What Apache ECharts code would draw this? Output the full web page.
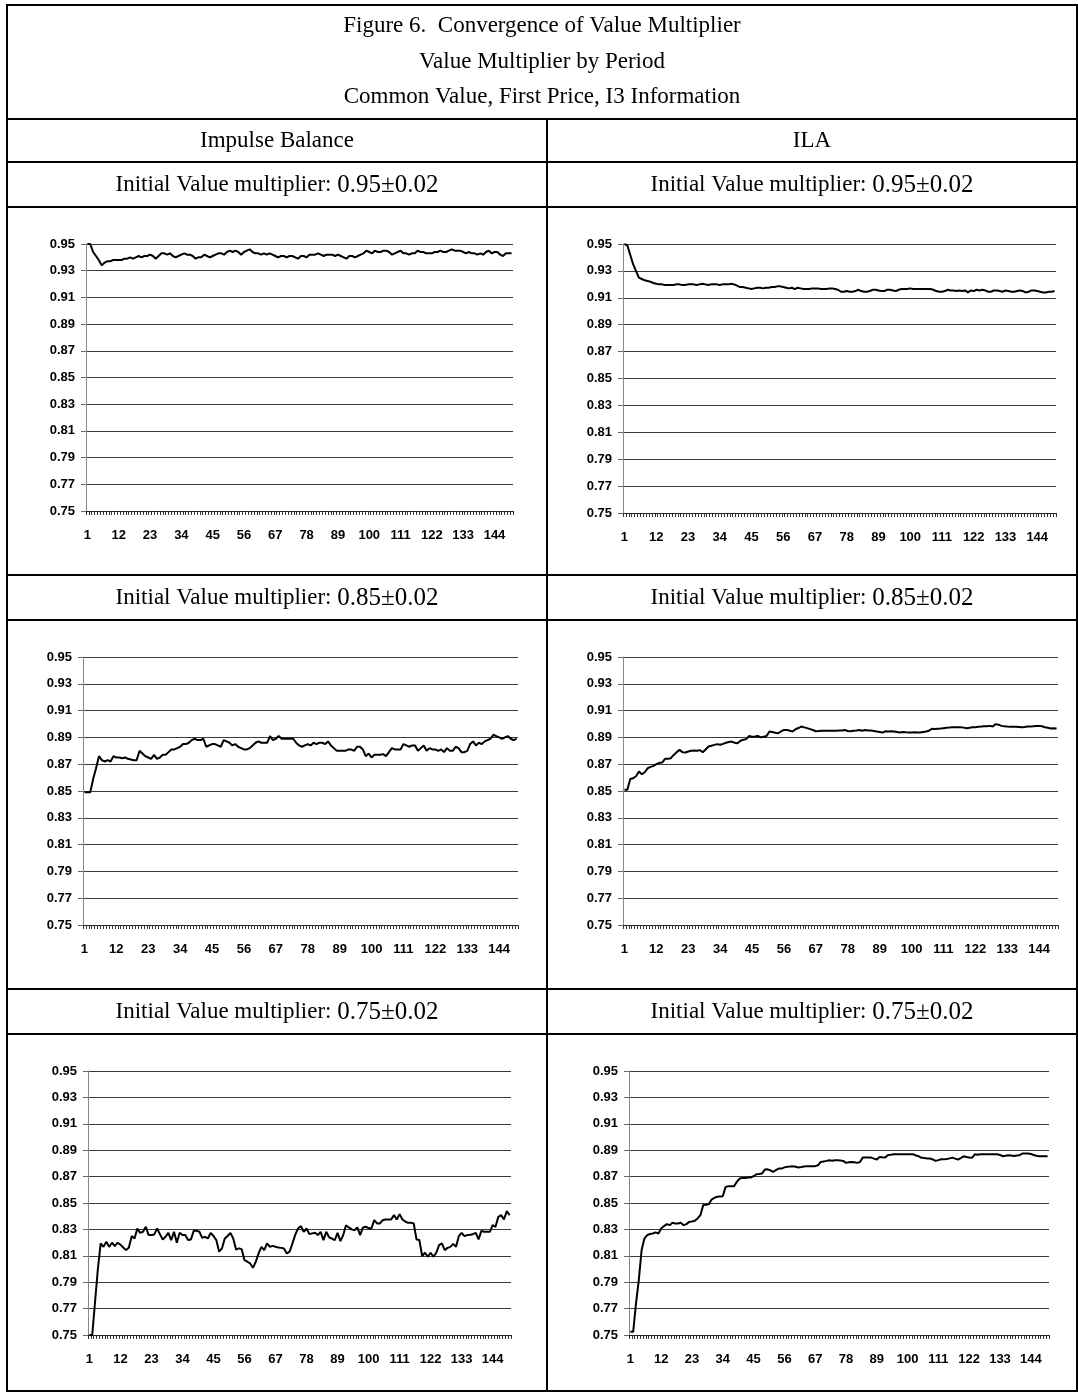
<!DOCTYPE html>
<html><head><meta charset="utf-8">
<script src="https://cdn.jsdelivr.net/npm/echarts@6/dist/echarts.min.js"></script>
<style>html,body{margin:0;padding:0;background:#fff}#c{width:1078px;height:1393px}</style>
</head><body><div id="c"></div>
<script>
const periods = Array.from({length:150},(_,i)=>String(i+1));
const yTicks = [0.75,0.77,0.79,0.81,0.83,0.85,0.87,0.89,0.91,0.93,0.95];

const ib95 = [0.950,0.950,0.944,0.941,0.938,0.934,0.936,0.937,0.937,0.938,
0.938,0.938,0.938,0.939,0.939,0.940,0.939,0.940,0.941,0.940,
0.941,0.941,0.942,0.941,0.939,0.941,0.943,0.943,0.942,0.943,
0.941,0.940,0.941,0.942,0.943,0.942,0.942,0.941,0.939,0.940,
0.940,0.942,0.941,0.940,0.941,0.942,0.943,0.943,0.942,0.944,
0.945,0.944,0.945,0.944,0.942,0.944,0.945,0.946,0.944,0.943,
0.943,0.942,0.943,0.942,0.943,0.942,0.941,0.940,0.941,0.941,
0.940,0.941,0.941,0.940,0.939,0.941,0.941,0.940,0.942,0.942,
0.942,0.943,0.942,0.941,0.942,0.942,0.942,0.941,0.942,0.941,
0.940,0.939,0.941,0.941,0.940,0.941,0.942,0.943,0.945,0.944,
0.943,0.945,0.944,0.944,0.945,0.945,0.944,0.942,0.943,0.944,
0.945,0.943,0.943,0.942,0.943,0.943,0.945,0.944,0.944,0.943,
0.943,0.943,0.944,0.944,0.945,0.944,0.944,0.945,0.946,0.945,
0.945,0.945,0.944,0.943,0.944,0.943,0.943,0.942,0.943,0.942,
0.944,0.945,0.943,0.944,0.944,0.942,0.941,0.943,0.943,0.943];

const ila95 = [0.950,0.949,0.942,0.935,0.930,0.925,0.924,0.923,0.9225,0.922,
0.921,0.9205,0.920,0.920,0.9195,0.9195,0.9195,0.9195,0.920,0.920,
0.9195,0.9195,0.920,0.920,0.920,0.9195,0.920,0.9205,0.920,0.9195,
0.920,0.920,0.920,0.9195,0.920,0.920,0.920,0.9205,0.920,0.919,
0.918,0.918,0.9175,0.917,0.9165,0.917,0.9175,0.9175,0.917,0.9175,
0.9175,0.918,0.918,0.9185,0.9185,0.918,0.9175,0.917,0.9175,0.9165,
0.9175,0.917,0.9165,0.9165,0.9165,0.917,0.917,0.917,0.9165,0.9165,
0.9165,0.917,0.917,0.9165,0.916,0.9145,0.9145,0.915,0.9145,0.9145,
0.915,0.916,0.915,0.9145,0.9145,0.915,0.916,0.916,0.9155,0.915,
0.915,0.916,0.916,0.9155,0.915,0.916,0.9165,0.9165,0.9165,0.917,
0.9165,0.9165,0.9165,0.9165,0.9165,0.9165,0.9165,0.916,0.915,0.9145,
0.9145,0.915,0.916,0.9155,0.9155,0.915,0.9155,0.915,0.9155,0.914,
0.9155,0.915,0.916,0.9155,0.916,0.9155,0.9145,0.9145,0.9155,0.9155,
0.915,0.9145,0.9155,0.915,0.9145,0.9145,0.915,0.9155,0.915,0.914,
0.9145,0.9155,0.9155,0.915,0.9145,0.914,0.914,0.9145,0.9145,0.915];

const ib85 = [0.849,0.849,0.849,0.859,0.867,0.876,0.873,0.872,0.873,0.872,
0.876,0.875,0.875,0.8745,0.875,0.874,0.8735,0.873,0.873,0.880,
0.878,0.876,0.875,0.874,0.877,0.874,0.875,0.877,0.877,0.879,
0.881,0.881,0.882,0.883,0.885,0.885,0.886,0.888,0.889,0.888,
0.888,0.889,0.883,0.884,0.885,0.885,0.884,0.883,0.888,0.887,
0.886,0.884,0.885,0.883,0.882,0.881,0.881,0.882,0.884,0.886,
0.887,0.886,0.886,0.886,0.891,0.888,0.889,0.891,0.889,0.889,
0.889,0.889,0.889,0.886,0.884,0.883,0.884,0.885,0.884,0.886,
0.885,0.886,0.886,0.885,0.887,0.884,0.882,0.880,0.880,0.880,
0.880,0.881,0.881,0.880,0.883,0.883,0.881,0.876,0.878,0.875,
0.877,0.877,0.877,0.8775,0.876,0.879,0.882,0.881,0.881,0.881,
0.885,0.884,0.883,0.884,0.884,0.880,0.882,0.884,0.880,0.882,
0.881,0.881,0.880,0.881,0.879,0.882,0.880,0.880,0.883,0.882,
0.879,0.879,0.880,0.885,0.887,0.884,0.886,0.885,0.887,0.888,
0.889,0.892,0.891,0.890,0.889,0.890,0.891,0.889,0.888,0.889];

const ila85 = [0.851,0.851,0.859,0.8595,0.861,0.8645,0.8625,0.864,0.867,0.868,
0.8687,0.870,0.871,0.8712,0.874,0.874,0.8745,0.8769,0.879,0.8807,
0.879,0.8787,0.8795,0.880,0.8802,0.880,0.8805,0.8789,0.881,0.8832,
0.8838,0.8844,0.885,0.8845,0.8852,0.886,0.8865,0.8869,0.886,0.8857,
0.8875,0.8882,0.8887,0.8911,0.8905,0.8906,0.8911,0.890,0.8905,0.891,
0.8944,0.894,0.8935,0.8931,0.8945,0.8956,0.8956,0.895,0.8944,0.8961,
0.897,0.8981,0.8975,0.8969,0.8962,0.8955,0.8946,0.8947,0.895,0.8949,
0.895,0.895,0.895,0.8949,0.8951,0.8951,0.8955,0.8948,0.8946,0.895,
0.8951,0.8955,0.8949,0.8955,0.8951,0.8951,0.8948,0.8944,0.894,0.8936,
0.8946,0.8944,0.8945,0.8944,0.894,0.8936,0.894,0.8938,0.8937,0.8936,
0.8938,0.8937,0.8936,0.894,0.8944,0.895,0.8964,0.8962,0.8964,0.8966,
0.8969,0.8972,0.8973,0.8975,0.8976,0.8976,0.8976,0.8973,0.8969,0.8972,
0.8976,0.8976,0.898,0.8981,0.8983,0.8984,0.8986,0.8982,0.8999,0.8995,
0.8986,0.8983,0.8981,0.898,0.898,0.898,0.8978,0.8976,0.8978,0.8981,
0.8982,0.8983,0.8985,0.8986,0.8983,0.8976,0.8972,0.8966,0.8968,0.8966];

const ib75 = [0.750,0.750,0.775,0.800,0.8194,0.8168,0.8206,0.8168,0.8199,0.8173,
0.8199,0.8185,0.8163,0.8143,0.8163,0.8249,0.8231,0.8307,0.8274,0.8282,
0.832,0.8257,0.8257,0.8262,0.8307,0.8264,0.8224,0.8244,0.8274,0.8219,
0.8282,0.8199,0.8274,0.8257,0.8257,0.8219,0.8224,0.8289,0.8289,0.8282,
0.8236,0.8244,0.8231,0.8274,0.8250,0.8219,0.8131,0.8156,0.8231,0.8250,
0.8274,0.8231,0.8148,0.8156,0.8150,0.8067,0.8055,0.8042,0.8009,0.8055,
0.8118,0.8168,0.8143,0.8194,0.8168,0.8175,0.8168,0.8163,0.8160,0.8156,
0.8118,0.8131,0.8194,0.8260,0.8307,0.8325,0.8282,0.8307,0.8264,0.8270,
0.8274,0.8257,0.8282,0.8219,0.8282,0.8240,0.8231,0.8219,0.8274,0.8211,
0.8257,0.8332,0.8315,0.8300,0.8294,0.8315,0.8257,0.8315,0.8320,0.8310,
0.8307,0.8370,0.8345,0.8345,0.8370,0.8375,0.8375,0.8375,0.8408,0.8375,
0.8416,0.8375,0.8360,0.8350,0.8350,0.8345,0.8224,0.8220,0.8098,0.8123,
0.8093,0.8123,0.8093,0.8123,0.8181,0.8194,0.8143,0.8160,0.8168,0.8190,
0.8168,0.8249,0.8274,0.8249,0.8257,0.8260,0.8264,0.8274,0.8224,0.8289,
0.8282,0.8282,0.8282,0.8332,0.8320,0.8395,0.8408,0.8375,0.8438,0.8408];

const ila75 = [0.7525,0.7525,0.774,0.7916,0.8143,0.8231,0.8257,0.8265,0.8269,0.8277,
0.8269,0.8307,0.8325,0.834,0.8332,0.835,0.8345,0.8345,0.835,0.8332,
0.834,0.8357,0.836,0.8365,0.8383,0.8408,0.8484,0.8487,0.8491,0.8526,
0.8540,0.8547,0.8550,0.8552,0.8622,0.8627,0.8627,0.8627,0.866,0.8685,
0.869,0.8690,0.8693,0.8693,0.8703,0.8718,0.8720,0.8723,0.8753,0.8755,
0.8748,0.8736,0.8750,0.8761,0.8761,0.8770,0.8774,0.8776,0.8779,0.8775,
0.8769,0.8772,0.8776,0.8779,0.8779,0.8779,0.8779,0.8786,0.8811,0.8815,
0.8819,0.8824,0.8820,0.8824,0.8824,0.8822,0.8819,0.8804,0.8808,0.8811,
0.8808,0.8804,0.8810,0.8844,0.8844,0.8844,0.8844,0.8836,0.8829,0.8849,
0.8846,0.8844,0.8864,0.8866,0.8869,0.8869,0.8869,0.8869,0.8869,0.8869,
0.8869,0.8869,0.8860,0.8854,0.8842,0.8840,0.8838,0.8837,0.8830,0.8819,
0.8825,0.8832,0.8832,0.8834,0.8838,0.8844,0.8836,0.8829,0.8840,0.8854,
0.8848,0.8844,0.8842,0.8869,0.8866,0.8869,0.8869,0.8869,0.8869,0.8869,
0.8869,0.8869,0.8864,0.8854,0.8858,0.8862,0.8860,0.8856,0.8860,0.8862,
0.8875,0.8875,0.8875,0.8872,0.8864,0.8858,0.8854,0.8854,0.8854,0.8854];

const titleLines = ["Figure 6.  Convergence of Value Multiplier","Value Multiplier by Period","Common Value, First Price, I3 Information"];
const columnHeads = ["Impulse Balance","ILA"];
const rowLabel = "Initial Value multiplier: ";
const rowValues = ["0.95\u00b10.02","0.85\u00b10.02","0.75\u00b10.02"];
const seriesList = [ib95, ila95, ib85, ila85, ib75, ila75];

const grids = [
  {left:86, top:244, width:427, height:267},
  {left:623, top:244, width:433, height:269},
  {left:83, top:657, width:435, height:268},
  {left:623, top:657, width:435, height:268},
  {left:88, top:1071, width:423, height:264},
  {left:629, top:1071, width:420, height:264}
];

const chart = echarts.init(document.getElementById('c'), null, {renderer:'canvas'});
const xAxes=[], yAxes=[], series=[];
grids.forEach((g,k)=>{
  xAxes.push({type:'category', gridIndex:k, data:periods, boundaryGap:true,
    axisLine:{show:true, lineStyle:{color:'#222', width:1}},
    axisTick:{show:true, interval:0, length:4, inside:false, lineStyle:{color:'#333', width:1}},
    axisLabel:{interval:10, margin:18, color:'#000', fontFamily:'Liberation Sans, Arial', fontWeight:'bold', fontSize:13},
    splitLine:{show:false}});
  yAxes.push({type:'value', gridIndex:k, min:yTicks[0], max:yTicks[yTicks.length-1], interval:0.02,
    axisLine:{show:true, lineStyle:{color:'#888', width:1}},
    axisTick:{show:true, length:5, lineStyle:{color:'#666'}},
    axisLabel:{margin:11, color:'#000', fontFamily:'Liberation Sans, Arial', fontWeight:'bold', fontSize:13,
      formatter:v=>v.toFixed(2)},
    splitLine:{show:true, lineStyle:{color:'#3a3a3a', width:1}}});
  series.push({type:'line', xAxisIndex:k, yAxisIndex:k, data:seriesList[k], showSymbol:false,
    lineStyle:{color:'#000', width:2}, animation:false});
});

const serif = 'Liberation Serif, Times New Roman, serif';
const gfx = [];
const L=7, R=1077, T=5, B=1391, MID=547;
const hLines=[119,162,207,575,620,989,1034];
gfx.push({type:'rect', shape:{x:L,y:T,width:R-L,height:B-T}, style:{fill:null, stroke:'#000', lineWidth:2}});
hLines.forEach(y=>gfx.push({type:'line', shape:{x1:L,y1:y,x2:R,y2:y}, style:{stroke:'#000', lineWidth:2}}));
gfx.push({type:'line', shape:{x1:MID,y1:119,x2:MID,y2:B}, style:{stroke:'#000', lineWidth:2}});
const titleY=[26,62,97];
titleLines.forEach((t,i)=>gfx.push({type:'text', x:(L+R)/2, y:titleY[i], style:{text:t, font:'23px '+serif, fill:'#000', textAlign:'center', textVerticalAlign:'middle'}}));
const colC=[(L+MID)/2,(MID+R)/2];
columnHeads.forEach((t,i)=>gfx.push({type:'text', x:colC[i], y:141, style:{text:t, font:'23px '+serif, fill:'#000', textAlign:'center', textVerticalAlign:'middle'}}));
const rowY=[185,598,1012];
rowValues.forEach((v,r)=>{
  colC.forEach(cx=>gfx.push({type:'text', x:cx, y:rowY[r], style:{
    text:'{a|'+rowLabel+'}{b|'+v+'}', fill:'#000', textAlign:'center', textVerticalAlign:'middle',
    rich:{a:{fontFamily:serif, fontSize:23, fill:'#000'}, b:{fontFamily:serif, fontSize:25, fill:'#000'}}}}));
});

chart.setOption({animation:false, grid:grids, xAxis:xAxes, yAxis:yAxes, series:series, graphic:gfx});
</script></body></html>
